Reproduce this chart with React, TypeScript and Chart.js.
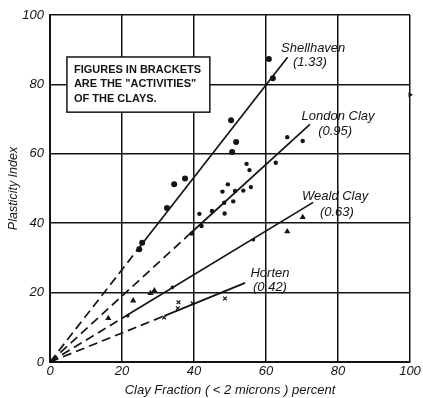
import React, { useEffect, useRef } from "react";
import { Chart, registerables } from "chart.js";

Chart.register(...registerables);

// Data
const shellX = [24.8, 25.6, 32.5, 34.5, 37.5, 50.6, 51.7, 50.3, 61.9, 60.8];
const shellY = [32.5, 34.4, 44.4, 51.2, 52.9, 60.5, 63.4, 69.7, 81.8, 87.3];

const londonX = [39.4, 42.1, 41.5, 45.0, 48.5, 48.4, 50.9, 47.9, 51.4, 53.7, 55.8, 49.4, 54.6, 55.4, 62.7, 65.9, 70.2];
const londonY = [37.0, 39.2, 42.7, 43.5, 42.8, 45.9, 46.3, 49.1, 49.3, 49.4, 50.4, 51.2, 57.1, 55.3, 57.4, 64.8, 63.7];

const wealdX = [16.2, 23.1, 27.9, 29.0, 65.9, 70.2];
const wealdY = [12.6, 17.7, 19.8, 20.6, 37.6, 41.7];
const wealdMarkX = [21.6, 34.0, 56.5];
const wealdMarkY = [13.3, 21.5, 35.2];

const hortenX = [31.7, 35.5, 35.7, 39.6, 48.6];
const hortenY = [12.8, 15.5, 17.2, 16.9, 18.3];

const edgeX = [100];
const edgeY = [77];

// Trend lines: origin, end of dashed part, end of solid part
const lineNames = ["Shellhaven", "London Clay", "Weald Clay", "Horten"];
const activityLabels = ["(1.33)", "(0.95)", "(0.63)", "(0.42)"];
const lineBreakX = [24.8, 38.5, 21.6, 31.8];
const lineBreakY = [33.0, 36.6, 13.6, 13.3];
const lineEndX = [66.0, 72.2, 73.1, 54.2];
const lineEndY = [87.8, 68.5, 46.0, 22.8];

const xTicks = [0, 20, 40, 60, 80, 100];
const yTicks = [0, 20, 40, 60, 80, 100];

const noteLines = ["FIGURES IN BRACKETS", "ARE THE \"ACTIVITIES\"", "OF THE CLAYS."];

const INK = "#141414";

function pts(xs: number[], ys: number[]) {
  return xs.map((x, i) => ({ x, y: ys[i] }));
}

const labelPlugin = {
  id: "labels",
  afterDraw(chart: any) {
    const { ctx, scales } = chart;
    const xs = scales.x;
    const ys = scales.y;
    const px = (v: number) => xs.getPixelForValue(v);
    const py = (v: number) => ys.getPixelForValue(v);
    ctx.save();
    // note box
    const bx0 = px(4.7), bx1 = px(44.4), by0 = py(87.9), by1 = py(72.0);
    ctx.fillStyle = "#fff";
    ctx.fillRect(bx0, by0, bx1 - bx0, by1 - by0);
    ctx.strokeStyle = INK;
    ctx.lineWidth = 1.5;
    ctx.strokeRect(bx0, by0, bx1 - bx0, by1 - by0);
    ctx.fillStyle = INK;
    ctx.font = "bold 11px 'Liberation Sans', sans-serif";
    ctx.textAlign = "left";
    ctx.textBaseline = "middle";
    const lineYs = [69.5, 84, 99];
    noteLines.forEach((t, i) => {
      ctx.fillText(t, bx0 + 7, lineYs[i]);
    });
    // line labels
    const namePos = [[73.1, 90.5], [80.0, 70.9], [79.2, 47.6], [61.1, 25.6]];
    const actPos = [[72.2, 86.2], [79.2, 66.6], [79.7, 43.2], [61.1, 21.6]];
    ctx.font = "italic 13px 'Liberation Sans', sans-serif";
    ctx.textAlign = "center";
    lineNames.forEach((n, i) => {
      ctx.fillText(n, px(namePos[i][0]), py(namePos[i][1]));
      ctx.fillText(activityLabels[i], px(actPos[i][0]), py(actPos[i][1]));
    });
    ctx.restore();
  },
};

export default function App() {
  const ref = useRef<HTMLCanvasElement | null>(null);
  useEffect(() => {
    if (!ref.current) return;
    const datasets: any[] = [];
    lineNames.forEach((n, i) => {
      datasets.push({
        label: n + " dashed",
        data: [{ x: 0, y: 0 }, { x: lineBreakX[i], y: lineBreakY[i] }],
        showLine: true,
        borderColor: INK,
        borderWidth: 1.7,
        borderDash: [9, 5],
        pointRadius: 0,
      });
      datasets.push({
        label: n + " solid",
        data: [{ x: lineBreakX[i], y: lineBreakY[i] }, { x: lineEndX[i], y: lineEndY[i] }],
        showLine: true,
        borderColor: INK,
        borderWidth: 1.7,
        pointRadius: 0,
      });
    });
    datasets.push({ label: "Shellhaven", data: pts(shellX, shellY), pointStyle: "circle", pointRadius: 3, backgroundColor: INK, borderColor: INK, borderWidth: 0 });
    datasets.push({ label: "London Clay", data: pts(londonX, londonY), pointStyle: "circle", pointRadius: 2.2, backgroundColor: INK, borderColor: INK, borderWidth: 0 });
    datasets.push({ label: "Weald Clay", data: pts(wealdX, wealdY), pointStyle: "triangle", pointRadius: 3.6, backgroundColor: INK, borderColor: INK, borderWidth: 0 });
    datasets.push({ label: "Weald marks", data: pts(wealdMarkX, wealdMarkY), pointStyle: "circle", pointRadius: 1.8, backgroundColor: INK, borderColor: INK, borderWidth: 0 });
    datasets.push({ label: "Horten", data: pts(hortenX, hortenY), pointStyle: "crossRot", pointRadius: 2.6, backgroundColor: INK, borderColor: INK, borderWidth: 1.2 });
    datasets.push({ label: "edge", data: pts(edgeX, edgeY), pointStyle: "triangle", rotation: 90, pointRadius: 3, backgroundColor: INK, borderColor: INK, borderWidth: 0, clip: false });

    const tickFont = { family: "'Liberation Sans', sans-serif", size: 13, style: "italic" as const };
    const chart = new Chart(ref.current, {
      type: "scatter",
      data: { datasets },
      options: {
        animation: false,
        responsive: false,
        maintainAspectRatio: false,
        layout: { padding: { left: 0, top: 15, right: 13, bottom: 0 } },
        plugins: { legend: { display: false }, tooltip: { enabled: false } },
        scales: {
          x: {
            type: "linear",
            min: 0,
            max: 100,
            afterFit: (s: any) => { s.height = 36; },
            afterBuildTicks: (s: any) => { s.ticks = xTicks.map((v) => ({ value: v })); },
            ticks: { color: INK, font: tickFont, padding: 2, maxRotation: 0 },
            grid: { color: INK, lineWidth: 1.5, drawTicks: false },
            border: { color: INK, width: 2 },
            title: { display: true, text: "Clay Fraction ( < 2 microns ) percent", color: INK, font: { family: "'Liberation Sans', sans-serif", size: 13, style: "italic" }, padding: { top: 0, bottom: 0 } },
          },
          y: {
            type: "linear",
            min: 0,
            max: 100,
            afterFit: (s: any) => { s.width = 50; },
            afterBuildTicks: (s: any) => { s.ticks = yTicks.map((v) => ({ value: v })); },
            ticks: { color: INK, font: tickFont, padding: 6 },
            grid: { color: INK, lineWidth: 1.5, drawTicks: false },
            border: { color: INK, width: 2 },
            title: { display: true, text: "Plasticity Index", color: INK, font: { family: "'Liberation Sans', sans-serif", size: 12.5, style: "italic" }, padding: { top: 6, bottom: 0 } },
          },
        },
      },
      plugins: [labelPlugin],
    });
    return () => chart.destroy();
  }, []);
  return (
    <div style={{ position: "absolute", left: 0, top: 0, width: 423, height: 398, background: "#fff" }}>
      <canvas ref={ref} width={423} height={398} style={{ width: 423, height: 398 }} />
    </div>
  );
}
